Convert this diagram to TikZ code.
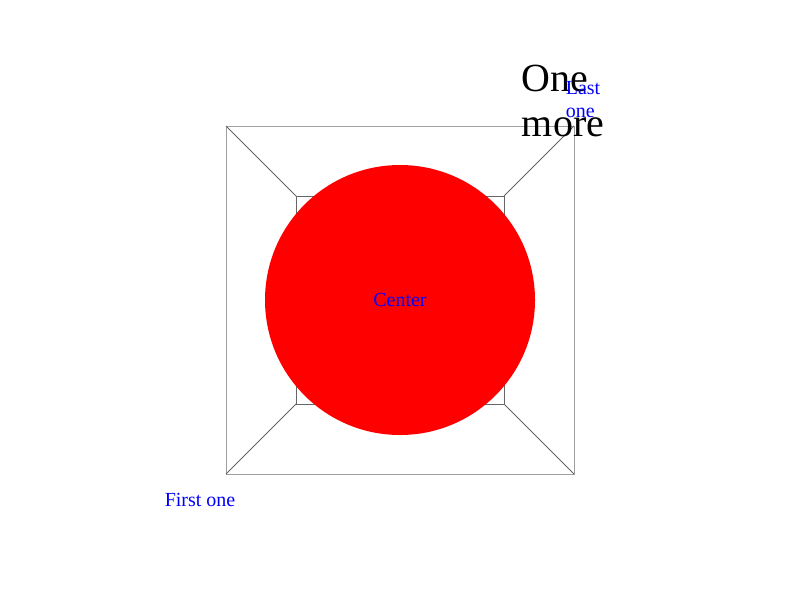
\documentclass[tikz,border=0pt]{standalone}
\usepackage{fontspec}
\setmainfont{Liberation Serif}
\usetikzlibrary{positioning}
\definecolor{framecolor}{HTML}{A0A0A0}
\definecolor{linecolor}{HTML}{666666}
\begin{document}
\begin{tikzpicture}[
    x=0.025cm, y=-0.025cm,
    frame/.style={draw=framecolor, line width=0.7pt},
    spoke/.style={draw=linecolor, line width=0.7pt},
    lbl/.style={text=blue, font=\fontsize{14.2}{16.3}\selectfont, align=center, inner sep=0pt},
    big/.style={text=black, font=\fontsize{28.4}{32.6}\selectfont, align=left, inner sep=0pt},
  ]
    \useasboundingbox (0,0) rectangle (800,600);
    % outer and inner corners
    \coordinate (o1) at (226,474);
    \coordinate (o2) at (574,474);
    \coordinate (o3) at (574,126);
    \coordinate (o4) at (226,126);
    \coordinate (i1) at (296,404);
    \coordinate (i2) at (504,404);
    \coordinate (i3) at (504,196);
    \coordinate (i4) at (296,196);

    \draw[frame] (o1) -- (o2) -- (o3) -- (o4) -- cycle;
    \draw[spoke] (i1) -- (i2) -- (i3) -- (i4) -- cycle;
    \foreach \k in {1,...,4}
      \draw[spoke] (o\k) -- (i\k);

    \node[circle, fill=red, minimum size=270*0.025cm, inner sep=0pt, lbl] (center) at (400,300) {Center};

    \node[lbl] (first) at (200,500) {First one};
    \node[big] (more) at (563,101) {One\\more};
    \node[lbl, align=left] (last) at (583,100) {Last\\one};
  \end{tikzpicture}
\end{document}
